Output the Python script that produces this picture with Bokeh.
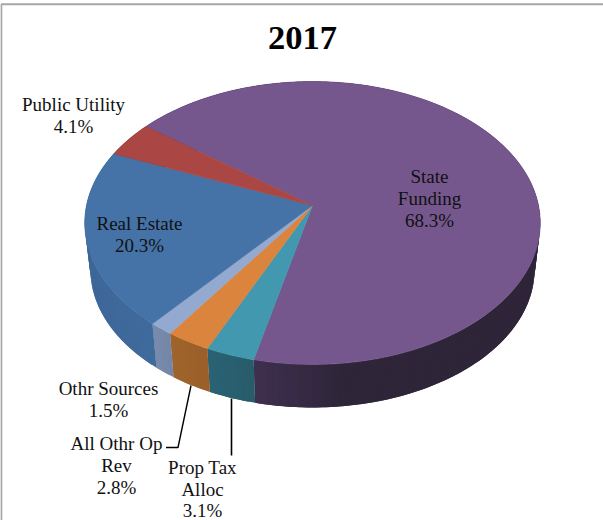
import numpy as np
from bokeh.core.properties import value
from bokeh.embed import file_html
from bokeh.plotting import figure
from bokeh.resources import INLINE

# Revenue shares for 2017, clockwise from the first slice
categories = ["State Funding", "Prop Tax Alloc", "All Othr Op Rev", "Othr Sources", "Real Estate", "Public Utility"]
shares = [68.3, 3.1, 2.8, 1.5, 20.3, 4.1]
share_labels = ["68.3%", "3.1%", "2.8%", "1.5%", "20.3%", "4.1%"]
top_colors = ["#75578E", "#4198AF", "#DB843D", "#93A9CF", "#4572A7", "#AA4643"]
side_colors_a = ["#3F3050", "#2A6475", "#A0652C", "#7A8CAE", "#3A6292", "#6E2D2B"]
side_colors_b = ["#2E2539", "#285C6B", "#9A5F2A", "#7587A8", "#3F6A9C", "#6E2D2B"]
side_fade = [21.0, 11.0, 10.0, 5.4, 73.0, 14.8]

# Perspective of the pie
FIRST_ANGLE = 307.6
CX, APEX_Y = 312.0, 205.0
RX, RY = 226.0, 139.3
TILT = 0.1236
BASE_SCALE, BASE_DROP = 0.975, 47.0


def project(deg, scale=1.0, drop=0.0):
    a = np.radians(deg)
    u, v = np.sin(a), np.cos(a)
    w = 1 + TILT * v
    return CX + scale * RX * u / w, APEX_Y + drop - scale * RY * v / w


def mix(c1, c2, t):
    a = [int(c1[i:i + 2], 16) for i in (1, 3, 5)]
    b = [int(c2[i:i + 2], 16) for i in (1, 3, 5)]
    return "#%02x%02x%02x" % tuple(round(p + (q - p) * t) for p, q in zip(a, b))


total = sum(shares)
edges = [FIRST_ANGLE]
for s in shares:
    edges.append(edges[-1] + s / total * 360.0)

p = figure(width=603, height=520, x_range=(0, 603), y_range=(520, 0), toolbar_location=None,
           output_backend="svg", min_border=0, outline_line_color=None)
p.axis.visible = False
p.grid.visible = False
p.background_fill_color = "white"
p.border_fill_color = "white"

# Chart frame, open at the bottom and right where the page ends
p.line([0.8, 0.8, 603], [520, 3.8, 3.8], line_color="#A6A6A6", line_width=2)

# Side wall: each strip runs on under the next one so no seams show
for i in range(len(shares)):
    start, end = edges[i], edges[i + 1]
    angles = np.arange(start, end, 1.5).tolist() + [end]
    for j in range(len(angles) - 1):
        a0, a1 = angles[j], angles[-1] if j == len(angles) - 2 else angles[j + 1] + 1.5
        arc = np.linspace(a0, min(a1, end), 4)
        tx, ty = project(arc)
        bx, by = project(arc, BASE_SCALE, BASE_DROP)
        t = min(1.0, (end - a0) / side_fade[i])
        fill = mix(side_colors_a[i], side_colors_b[i], t)
        p.patch(tx.tolist() + bx[::-1].tolist(), ty.tolist() + by[::-1].tolist(),
                fill_color=fill, line_color=None)

# Top face
for i in range(len(shares)):
    angles = np.linspace(edges[i], edges[i + 1], max(2, int(edges[i + 1] - edges[i]) + 2))
    rx, ry = project(angles)
    p.patch([CX] + rx.tolist(), [APEX_Y] + ry.tolist(), fill_color=top_colors[i],
            line_color=top_colors[i], line_width=0.6)

SERIF = value("Liberation Serif")
# Label blocks: centre of the first line, then the lines going down
label_lines = [
    (429, 176, 22, ["State", "Funding", share_labels[0]]),
    (202, 467, 21.5, ["Prop Tax", "Alloc", share_labels[1]]),
    (116, 443, 22, ["All Othr Op", "Rev", share_labels[2]]),
    (108, 388, 22, ["Othr Sources", share_labels[3]]),
    (139, 223, 22, ["Real Estate", share_labels[4]]),
    (73, 104, 22, ["Public Utility", share_labels[5]]),
]
for x, y, step, lines in label_lines:
    for k, line in enumerate(lines):
        p.text([x], [y + step * k], text=[line], text_font=SERIF, text_font_size="19px", text_color="#111111",
               text_align="center", text_baseline="middle")

p.text([302], [37], text=["2017"], text_font=SERIF, text_font_style="bold", text_font_size="34.5px",
       text_color="black", text_align="center", text_baseline="middle")

# Leader lines for the two narrow slices
p.line([190.5, 177.5, 165.5], [385, 447, 447], line_color="black", line_width=1.4)
p.line([231, 231], [398, 455], line_color="black", line_width=1.6)

open("out.html", "w").write(file_html(p, INLINE))
